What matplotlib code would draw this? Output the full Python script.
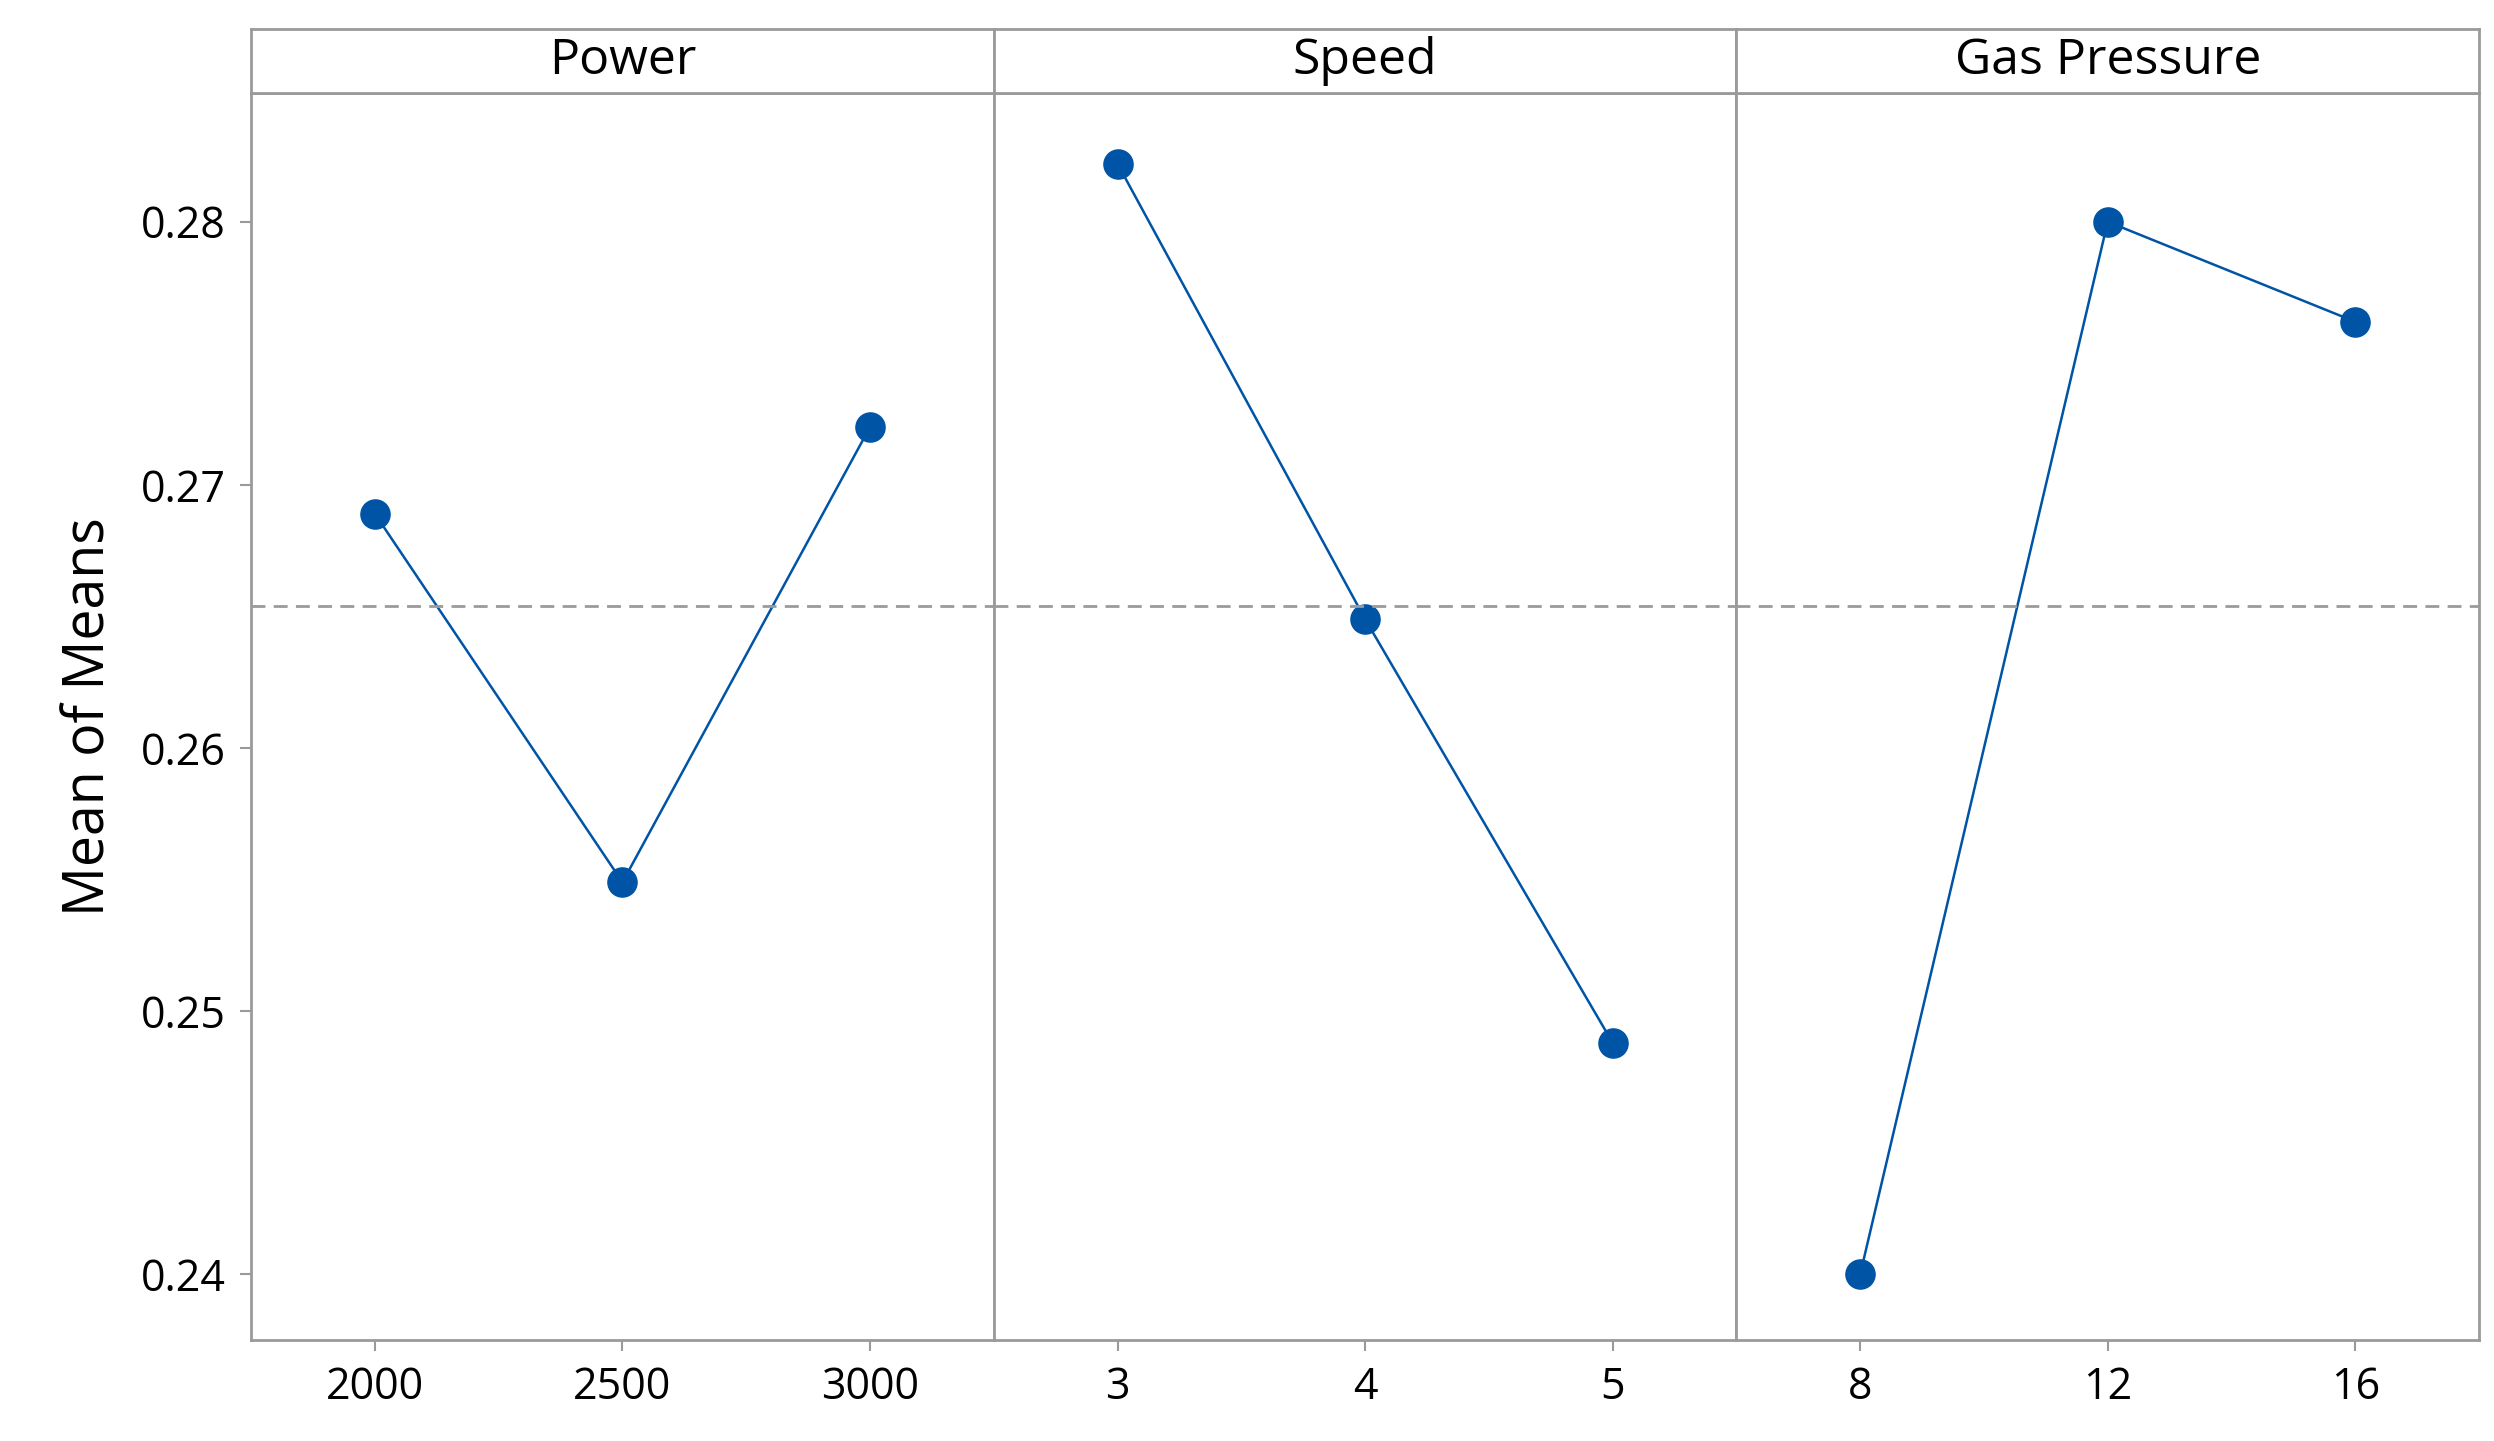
import matplotlib.pyplot as plt

# Daten
factors = ["Power", "Speed", "Gas Pressure"]
levels = [["2000", "2500", "3000"], ["3", "4", "5"], ["8", "12", "16"]]
means = [[0.2689, 0.2549, 0.2722],
         [0.2822, 0.2649, 0.2488],
         [0.2400, 0.2800, 0.2762]]
grand_mean = 0.2654

plt.rcParams["font.family"] = ["Open Sans", "DejaVu Sans"]
GRAY = "#9a9a9a"
BLUE = "#0054a6"

fig = plt.figure(figsize=(24.94, 14.41), dpi=100)
left, right, bottom, top, strip_top = 0.1007, 0.994, 0.070, 0.9356, 0.980
w = (right - left) / 3

for i, (name, labs, vals) in enumerate(zip(factors, levels, means)):
    ax = fig.add_axes([left + i * w, bottom, w, top - bottom])
    x = range(len(labs))
    ax.plot(x, vals, color=BLUE, linewidth=1.8, marker="o", markersize=21)
    ax.axhline(grand_mean, color=GRAY, linestyle=(0, (5, 3)), linewidth=2)
    ax.set_xlim(-0.5, 2.5)
    ax.set_ylim(0.2375, 0.2849)
    ax.set_xticks(list(x))
    ax.set_xticklabels(labs)
    ax.tick_params(axis="both", labelsize=31, color=GRAY, length=8, width=1.5,
                   pad=10)
    for s in ax.spines.values():
        s.set_color(GRAY)
        s.set_linewidth(2)
    if i == 0:
        ax.set_yticks([0.24, 0.25, 0.26, 0.27, 0.28])
        ax.set_yticklabels(["0.24", "0.25", "0.26", "0.27", "0.28"])
        ax.set_ylabel("Mean of Means", fontsize=40, labelpad=16)
    else:
        ax.set_yticks([])

    # Kopfzeile
    hx = fig.add_axes([left + i * w, top, w, strip_top - top])
    hx.set_xticks([])
    hx.set_yticks([])
    for s in hx.spines.values():
        s.set_color(GRAY)
        s.set_linewidth(2)
    hx.text(0.5, 0.5, name, ha="center", va="center", fontsize=36,
            transform=hx.transAxes)

fig.savefig("out.png", dpi=100, facecolor="white")
